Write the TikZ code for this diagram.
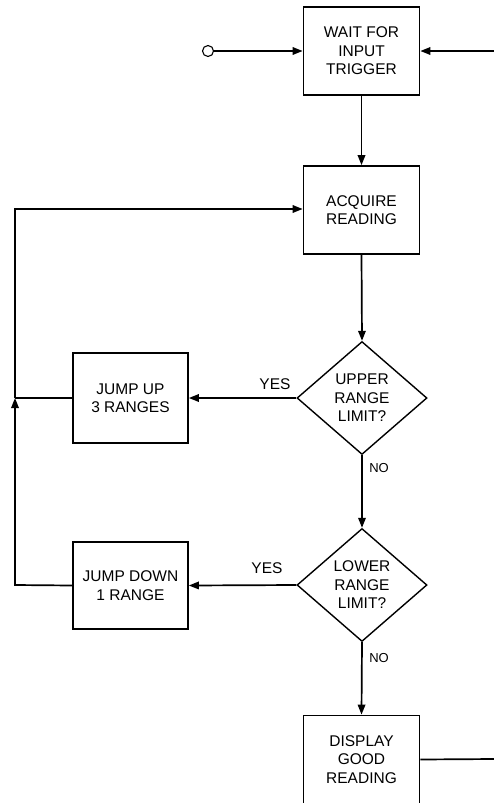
\documentclass[tikz,border=0pt]{standalone}
\usepackage{fontspec}
\setmainfont{Liberation Sans}
\usetikzlibrary{shapes.geometric,arrows.meta}
\begin{document}
\begin{tikzpicture}[x=1pt,y=-1pt,
  font=\fontsize{15.5}{18.5}\selectfont,
  line width=1.7pt,
  arr/.style={-{Triangle[length=10pt,width=7.5pt]}},
  stepbox/.style={draw,rectangle,minimum width=116pt,minimum height=88pt,inner sep=0pt,align=center,line width=1.7pt},
  decision/.style={draw,diamond,minimum width=130pt,minimum height=113pt,inner sep=0pt,align=center,line width=1.4pt},
  lbl/.style={font=\fontsize{15.5}{16}\selectfont,inner sep=0pt},
  nolbl/.style={font=\fontsize{13}{14}\selectfont,inner sep=0pt}]
\useasboundingbox (0,0) rectangle (494,803);
\node[stepbox] (wait) at (361.5,51) {WAIT FOR\\INPUT\\TRIGGER};
\node[stepbox] (acq) at (361.5,210) {ACQUIRE\\READING};
\node[decision] (upper) at (362,398) {UPPER\\RANGE\\LIMIT?};
\node[decision] (lower) at (362,585) {LOWER\\RANGE\\LIMIT?};
\node[stepbox] (disp) at (361.5,759.5) {DISPLAY\\GOOD\\READING};
\node[stepbox,minimum width=115pt,minimum height=90pt] (up) at (130.5,398) {JUMP UP\\3 RANGES};
\node[stepbox,minimum width=115pt,minimum height=87pt] (down) at (130.5,585.5) {JUMP DOWN\\1 RANGE};
\node[draw,circle,minimum size=11pt,inner sep=0pt,line width=1.1pt] (start) at (208,51) {};
\coordinate (inR) at (494,51);
\coordinate (outR) at (494,759);
\coordinate (j1) at (15,398);
\coordinate (j0) at (15,585);
\coordinate (j2) at (15,209);
\draw[arr] (start) -- (wait.west);
\draw[arr] (inR) -- (wait.east);
\draw[arr] (wait.south) -- (acq.north);
\draw[arr] (acq.south) -- (upper.north);
\draw[arr] (upper.west) -- (up.east);
\draw[arr] (upper.south) -- (lower.north);
\draw[arr] (lower.west) -- (down.east);
\draw[arr] (lower.south) -- (disp.north);
\draw (disp.east) -- (outR);
\draw (up.west) -- (j1);
\draw[arr] (down.west) -- (j0) -- (j1);
\draw[arr] (j1) -- (j2) -- (acq.west |- j2);
\node[lbl] (yes1) at (275,384) {YES};
\node[lbl] (yes2) at (267,568) {YES};
\node[nolbl] (no1) at (379,468) {NO};
\node[nolbl] (no2) at (379,658) {NO};
\end{tikzpicture}
\end{document}
